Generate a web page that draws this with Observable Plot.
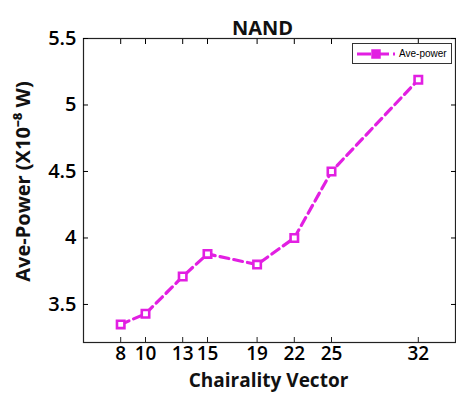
<!DOCTYPE html>
<html>
<head>
<meta charset="utf-8">
<script src="https://cdn.jsdelivr.net/npm/d3@7"></script>
<script src="https://cdn.jsdelivr.net/npm/@observablehq/plot@0.6"></script>
<style>
  html, body { margin: 0; padding: 0; background: #fff; }
  #wrap { position: relative; width: 456px; height: 394px; overflow: hidden; }
  #legend { position: absolute; left: 352px; top: 43px; width: 98px; height: 19px; border: 1px solid #333; background: #fff;
    font-family: Arial, "Liberation Sans", sans-serif; font-size: 10px; display: flex; align-items: center; }
  #legend svg { margin-left: 3px; }
</style>
</head>
<body>
<div id="wrap"></div>
<script>
const title = "NAND";
const xLabel = "Chairality Vector";
const yLabel = "Ave-Power (X10\u207B\u2078 W)";
const seriesName = "Ave-power";
const chirality = [8, 10, 13, 15, 19, 22, 25, 32];
const avePower = [3.35, 3.43, 3.71, 3.88, 3.80, 4.00, 4.50, 5.19];
const yTicks = [3.5, 4, 4.5, 5, 5.5];
const color = "#e21fe2";
const font = "'Open Sans', 'Liberation Sans', sans-serif";

const data = chirality.map((c, i) => ({c, p: avePower[i]}));

const chart = Plot.plot({
  width: 456,
  height: 394,
  marginLeft: 83,
  marginRight: 1,
  marginTop: 38,
  marginBottom: 52,
  style: {fontFamily: font, background: "#fff", overflow: "visible"},
  x: {domain: [5, 35]},
  y: {domain: [3.214, 5.5]},
  marks: [
    Plot.frame({stroke: "#222", strokeWidth: 1.2}),
    Plot.axisX({ticks: chirality, tickSize: -5, tickPadding: 9, fontSize: 19, fontWeight: 600, label: null, stroke: "#222"}),
    Plot.axisX({anchor: "top", ticks: chirality, tickSize: -5, tickFormat: () => "", label: null}),
    Plot.axisY({ticks: yTicks, tickSize: -5, tickPadding: 12, fontSize: 20, fontWeight: 600, label: null, tickFormat: d => String(d)}),
    Plot.axisY({anchor: "right", ticks: yTicks, tickSize: -5, tickFormat: () => "", label: null}),
    Plot.line(data, {x: "c", y: "p", stroke: color, strokeWidth: 3.2, strokeDasharray: "9,5"}),
    Plot.dot(data, {x: "c", y: "p", symbol: "square", r: 4.2, fill: "#fff", stroke: color, strokeWidth: 2.6}),
    Plot.text([title], {frameAnchor: "top", dx: -7, dy: -18, fontSize: 20, fontWeight: "bold", fill: "#111"}),
    Plot.text([xLabel], {frameAnchor: "bottom", dx: -1, dy: 44, fontSize: 19, fontWeight: "bold", fill: "#111"}),
    Plot.text([yLabel], {frameAnchor: "left", textAnchor: "middle", dx: -60, dy: -9, rotate: -90, fontSize: 20, fontWeight: "bold", fill: "#111"})
  ]
});

const wrap = document.getElementById("wrap");
wrap.appendChild(chart);
const legend = document.createElement("div");
legend.id = "legend";
legend.innerHTML = `<svg width="40" height="12"><line x1="1" y1="6" x2="39" y2="6" stroke="${color}" stroke-width="3" stroke-dasharray="14,4"/><rect x="16" y="2" width="8" height="8" fill="${color}" stroke="${color}" stroke-width="1.5"/></svg><span style="margin-left:3px">${seriesName}</span>`;
wrap.appendChild(legend);
</script>
</body>
</html>
